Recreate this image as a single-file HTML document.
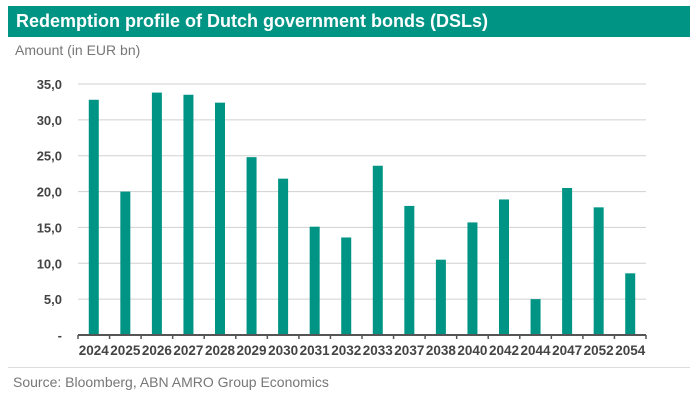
<!DOCTYPE html>
<html><head><meta charset="utf-8"><style>
body{margin:0;width:696px;height:412px;background:#fff;font-family:"Liberation Sans",Arial,sans-serif;overflow:hidden;position:relative}
.hdr{position:absolute;left:8px;top:6px;width:682px;height:31px;background:#009485;color:#fff;font-weight:bold;font-size:18px;line-height:31px;padding-left:8px;box-sizing:border-box}
.yt{position:absolute;left:15px;top:42px;font-size:14px;color:#777}
.src{position:absolute;left:13px;top:374px;font-size:14px;color:#777}
.sep{position:absolute;left:8px;top:367px;width:682px;height:1px;background:#ddd}
svg{position:absolute;left:0;top:0}
</style></head><body>
<div class="hdr">Redemption profile of Dutch government bonds (DSLs)</div>
<div class="yt">Amount (in EUR bn)</div>
<svg id="c" width="696" height="412"></svg>
<div class="sep"></div>
<div class="src">Source: Bloomberg, ABN AMRO Group Economics</div>
<script>
const categories=["2024","2025","2026","2027","2028","2029","2030","2031","2032","2033","2037","2038","2040","2042","2044","2047","2052","2054"];
const values=[32.8,20.0,33.8,33.5,32.4,24.8,21.8,15.1,13.6,23.6,18.0,10.5,15.7,18.9,5.0,20.5,17.8,8.6];
const ticks=[0,5,10,15,20,25,30,35];
const tickLabels=["-","5,0","10,0","15,0","20,0","25,0","30,0","35,0"];
const NS="http://www.w3.org/2000/svg",svg=document.getElementById('c');
const x0=78,x1=646,y0=335,yTop=84,maxV=35;
const y=v=>y0-(v/maxV)*(y0-yTop);
const bw=(x1-x0)/categories.length;
const xc=i=>x0+bw*(i+0.5);
function mk(t,a){const e=document.createElementNS(NS,t);for(const k in a)e.setAttribute(k,a[k]);svg.appendChild(e);return e;}
ticks.forEach((t,i)=>{
  if(t>0){const g=mk('line',{x1:x0,x2:x1,y1:y(t),y2:y(t),stroke:'#d0d0d0','stroke-width':1});
  
  }
  const l=mk('text',{x:62,y:y(t)+5,'text-anchor':'end','font-size':13,'font-weight':'bold',fill:'#444','font-family':'Liberation Sans, sans-serif'});
  l.textContent=tickLabels[i];
  
  
});
categories.forEach((c,i)=>{
  const r=mk('rect',{x:xc(i)-5,y:y(values[i]),width:10,height:y0-y(values[i]),fill:'#009485'});
  
  
  const l=mk('text',{x:xc(i),y:y0+20,'text-anchor':'middle','font-size':13.5,'font-weight':'bold',fill:'#444','font-family':'Liberation Sans, sans-serif'});
  l.textContent=c;
  
  
});
const ax=mk('line',{x1:x0,x2:x1,y1:y0,y2:y0,stroke:'#555','stroke-width':2});


for(let i=0;i<=categories.length;i++){
  const t=mk('line',{x1:x0+bw*i,x2:x0+bw*i,y1:y0,y2:y0+4,stroke:'#555','stroke-width':1.5});
  
  
}
</script>
</body></html>
